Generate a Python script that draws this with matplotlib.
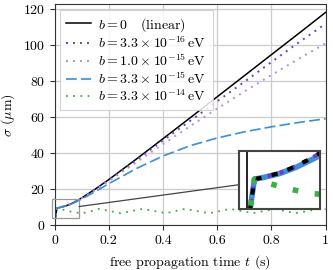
import numpy as np
import matplotlib
matplotlib.use('Agg')
import matplotlib.pyplot as plt
from matplotlib.patches import Rectangle, ConnectionPatch

plt.rcParams['font.family'] = ['cmr10', 'DejaVu Serif']
plt.rcParams['mathtext.fontset'] = 'cm'
plt.rcParams['axes.formatter.use_mathtext'] = True
plt.rcParams['font.size'] = 10

# curves
t = [0, 0.0086, 0.02, 0.04, 0.06, 0.08, 0.1, 0.15, 0.2, 0.3, 0.4, 0.5, 0.6, 0.7, 0.8, 0.9, 1.0]
sig_lin = [1.0, 9.7, 10.0, 10.8, 12.0, 13.5, 15.3, 20.2, 25.5, 36.7, 48.2, 59.8, 71.5, 83.2, 94.9, 106.6, 118.4]
sig_b1 = [1.0, 9.7, 10.0, 10.8, 12.0, 13.5, 15.2, 20.0, 25.2, 36.1, 47.2, 58.1, 69.0, 79.8, 90.8, 101.6, 112.1]
sig_b2 = [1.0, 9.7, 10.0, 10.8, 12.0, 13.4, 15.1, 19.7, 24.7, 34.9, 45.2, 55.2, 64.9, 74.4, 83.6, 92.5, 101.2]
sig_b3 = [1.0, 9.7, 10.0, 10.7, 11.8, 13.2, 14.7, 18.8, 23.2, 31.5, 38.6, 44.3, 48.6, 52.0, 54.8, 57.2, 59.3]

t_g = [0, 0.0086, 0.025, 0.047, 0.075, 0.103, 0.135, 0.164, 0.204, 0.244, 0.284, 0.324,
       0.368, 0.412, 0.446, 0.480, 0.525, 0.571, 0.610, 0.648, 0.69, 0.730, 0.772, 0.813,
       0.85, 0.887, 0.933, 0.979, 1.0]
sig_b4 = [1.0, 9.7, 9.0, 8.1, 7.2, 6.8, 7.9, 9.2, 8.0, 6.8, 8.0, 9.2,
          8.0, 6.8, 8.0, 9.2, 8.0, 6.8, 8.0, 9.2, 8.0, 6.8, 8.0, 9.2,
          8.0, 6.8, 8.0, 9.2, 9.1]

labels = [r'$b = 0$   (linear)',
          r'$b = 3.3\times10^{-16}\,\mathrm{eV}$',
          r'$b = 1.0\times10^{-15}\,\mathrm{eV}$',
          r'$b = 3.3\times10^{-15}\,\mathrm{eV}$',
          r'$b = 3.3\times10^{-14}\,\mathrm{eV}$']
colors = ['black', '#6a3dc8', '#b48ee4', '#3a8fd6', '#3cb043']

xticks = [0, 0.2, 0.4, 0.6, 0.8, 1.0]
xticklabels = ['0', '0.2', '0.4', '0.6', '0.8', '1']
yticks = [0, 20, 40, 60, 80, 100, 120]

fig = plt.figure(figsize=(3.33, 2.70), dpi=100)
ax = fig.add_axes([0.164, 0.165, 0.814, 0.82])

ax.plot(t, sig_lin, color=colors[0], lw=1.1, label=labels[0])
ax.plot(t, sig_b1, color=colors[1], lw=1.4, ls=(0, (1, 2.6)), label=labels[1])
ax.plot(t, sig_b2, color=colors[2], lw=1.4, ls=(0, (1, 2.6)), label=labels[2])
ax.plot(t, sig_b3, color=colors[3], lw=1.2, ls=(0, (6.5, 2.5)), label=labels[3])
ax.plot(t_g, sig_b4, color=colors[4], lw=1.3, ls=(0, (1, 3)), label=labels[4])

ax.set_xlim(0, 1)
ax.set_ylim(0, 123)
ax.set_xticks(xticks)
ax.set_xticklabels(xticklabels)
ax.set_yticks(yticks)
ax.grid(True, color='#cccccc', lw=0.9)
ax.set_axisbelow(True)
for s in ax.spines.values():
    s.set_color('#333333')
ax.tick_params(direction='out', length=3.5, color='#333333')
ax.set_xlabel(r'free propagation time $t$ (s)')
ax.set_ylabel(r'$\sigma$ ($\mu$m)')

leg = ax.legend(loc='upper left', handlelength=1.8, handletextpad=0.5,
                labelspacing=0.12, borderaxespad=0.4, borderpad=0.45,
                fancybox=False, framealpha=0.85, edgecolor='#cccccc')
leg.get_frame().set_linewidth(0.8)

# zoom box and inset
x0, x1, y0, y1 = -0.01, 0.09, 4.3, 14.8
ax.add_patch(Rectangle((x0, y0), x1 - x0, y1 - y0, fill=False,
                       ec='#999999', lw=0.9, clip_on=False, zorder=5))

axins = fig.add_axes([0.719, 0.225, 0.242, 0.217])
axins.plot(t, sig_b3, color=colors[3], lw=4)
axins.plot(t, sig_b2, color=colors[2], lw=3, ls=(0, (1, 2)))
axins.plot(t, sig_b1, color=colors[1], lw=3, ls=(0, (1, 2)))
axins.plot(t, sig_lin, color=colors[0], lw=3, ls=(0, (1.5, 2.5)))
axins.plot(t_g, sig_b4, color=colors[4], lw=4, ls=(0, (1, 3)))
axins.axvline(0, color='black', lw=1.2)
axins.set_xlim(x0, x1)
axins.set_ylim(y0, y1)
axins.set_xticks([])
axins.set_yticks([])
for s in axins.spines.values():
    s.set_color('#444444')
    s.set_linewidth(1.5)

con = ConnectionPatch(xyA=(x1, 10.5), coordsA=ax.transData,
                      xyB=(0, 0.42), coordsB=axins.transAxes,
                      color='#444444', lw=0.9)
fig.add_artist(con)

fig.savefig('out.png', dpi=100)
